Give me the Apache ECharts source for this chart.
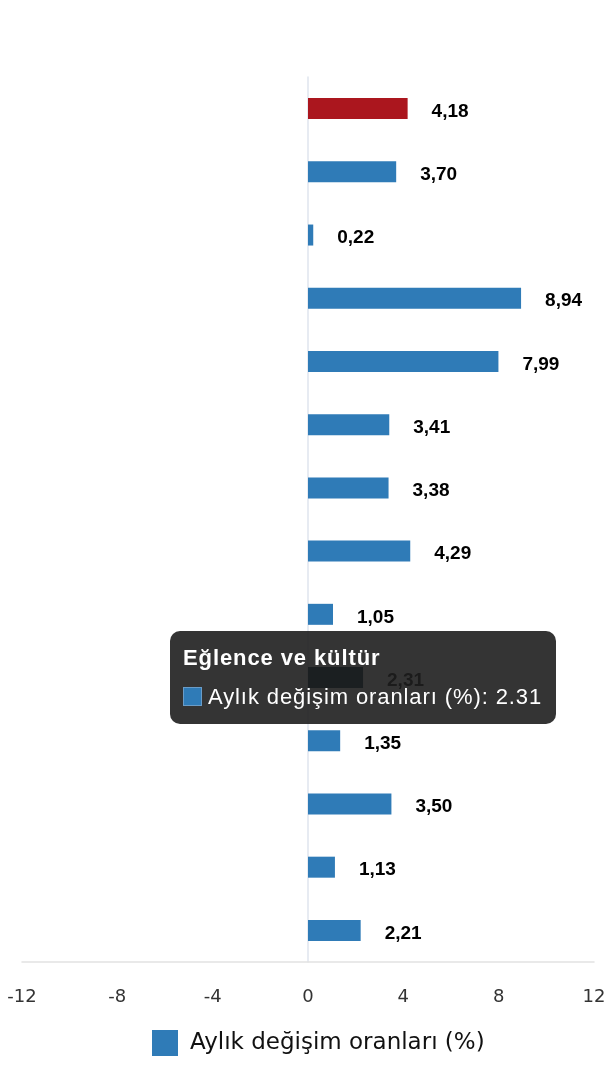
<!DOCTYPE html>
<html>
<head>
<meta charset="utf-8">
<script src="https://cdn.jsdelivr.net/npm/echarts@6/dist/echarts.min.js"></script>
<style>
  html, body { margin: 0; padding: 0; background: #fff; }
  #main { width: 610px; height: 1080px; }
</style>
</head>
<body>
<div id="main"></div>
<script>
// veriler
var categories = [
    'Genel',
    'Gıda ve alkolsüz içecekler',
    'Alkollü içecekler ve tütün',
    'Giyim ve ayakkabı',
    'Konut, su, elektrik, gaz ve diğer yakıtlar',
    'Mobilya, ev aletleri ve ev bakımı',
    'Sağlık',
    'Ulaştırma',
    'Bilgi ve iletişim',
    'Eğlence ve kültür',
    'Eğitim hizmetleri',
    'Lokanta ve konaklama hizmetleri',
    'Sigorta ve finansal hizmetler',
    'Kişisel bakım, sosyal koruma ve çeşitli mal ve hizmetler'
];
var values = [4.18, 3.70, 0.22, 8.94, 7.99, 3.41, 3.38, 4.29, 1.05, 2.31, 1.35, 3.50, 1.13, 2.21];
var xTicks = [-12, 12, 4]; // min, max, aralık
var seriesName = 'Aylık değişim oranları (%)';
var tipIndex = 9;

var blue = '#2f7bb7';
var red = '#ab161e';
var sans = '"DejaVu Sans", sans-serif';
var arial = '"Liberation Sans", Arial, sans-serif';

var myChart = echarts.init(document.getElementById('main'));

var option = {
    animation: false,
    textStyle: { fontFamily: sans },
    grid: { left: 22, right: 16, top: 77, bottom: 118, containLabel: false },
    legend: {
        bottom: 19,
        left: 147,
        itemWidth: 26,
        itemHeight: 26,
        icon: 'rect',
        textStyle: { color: '#111', fontSize: 23, fontFamily: sans, padding: [0, 0, 0, 7] },
        data: [{ name: seriesName, itemStyle: { color: blue } }]
    },
    tooltip: {
        trigger: 'item',
        backgroundColor: 'rgba(30,30,30,0.9)',
        borderWidth: 0,
        padding: [14, 14, 14, 13],
        extraCssText: 'border-radius:10px;box-shadow:none;',
        textStyle: { color: '#fff', fontSize: 22, fontFamily: arial },
        position: function () { return [170, 631]; },
        formatter: function (p) {
            var f = 'font-family:' + arial.replace(/"/g, "'") + ';letter-spacing:0.9px;font-size:22px;line-height:26px;';
            return '<div style="' + f + 'font-weight:bold;margin-bottom:13px;">' + p.name + '</div>' +
                '<div style="' + f + 'white-space:nowrap;">' +
                '<span style="display:inline-block;width:17px;height:17px;background:' + blue +
                ';border:1px solid #6a9cc7;vertical-align:-2px;margin-right:6px;"></span>' +
                p.seriesName + ': ' + p.value + '</div>';
        }
    },
    xAxis: {
        type: 'value',
        min: xTicks[0],
        max: xTicks[1],
        interval: xTicks[2],
        axisLine: { show: true, lineStyle: { color: '#e2e2e2', width: 1.5 } },
        axisTick: { show: false },
        splitLine: { show: false },
        axisLabel: { color: '#333', fontSize: 18, margin: 26, fontFamily: sans }
    },
    yAxis: {
        type: 'category',
        inverse: true,
        data: categories,
        axisLine: { show: true, onZero: true, lineStyle: { color: '#dfe5ee', width: 1.5 } },
        axisTick: { show: false },
        axisLabel: { show: false },
        splitLine: { show: false }
    },
    series: [
        {
            name: seriesName,
            type: 'bar',
            barWidth: 21,
            data: values.map(function (v, i) {
                return { value: v, itemStyle: { color: i === 0 ? red : blue } };
            }),
            itemStyle: { color: blue },
            emphasis: { itemStyle: { color: '#082a44' } },
            label: {
                show: true,
                position: 'right',
                distance: 24,
                offset: [0, 3],
                color: '#000',
                fontWeight: 'bold',
                fontSize: 19,
                fontFamily: arial,
                formatter: function (p) { return p.value.toFixed(2).replace('.', ','); }
            }
        }
    ]
};

myChart.setOption(option);

setTimeout(function () {
    myChart.dispatchAction({ type: 'highlight', seriesIndex: 0, dataIndex: tipIndex });
    myChart.dispatchAction({ type: 'showTip', seriesIndex: 0, dataIndex: tipIndex });
}, 50);
</script>
</body>
</html>
